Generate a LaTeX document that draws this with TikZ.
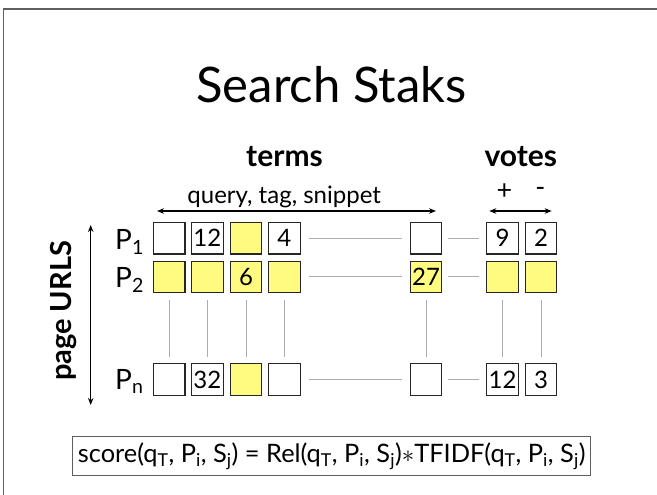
\documentclass[tikz,border=0pt]{standalone}
\usepackage{fontspec}
\setmainfont{Lato}
\usetikzlibrary{arrows.meta}
\definecolor{cellyellow}{RGB}{255,251,128}
\definecolor{linkgray}{RGB}{172,172,172}
\definecolor{framegray}{RGB}{95,95,95}
\newcommand{\fsz}[1]{\fontsize{#1}{#1}\selectfont}
\begin{document}
\begin{tikzpicture}[x=1pt,y=-1pt,
  cell/.style={draw=black!85, line width=1.2pt, minimum size=31.5pt,
    inner sep=0pt, fill=white, font=\fsz{24}},
  ycell/.style={cell, fill=cellyellow},
  link/.style={draw=linkgray, line width=0.9pt},
  rowlabel/.style={anchor=base west, inner sep=0pt, font=\fsz{28}},
  head/.style={anchor=base, inner sep=0pt, font=\fsz{30}\bfseries},
  span/.style={line width=1.1pt, {Stealth[length=7pt,width=5.5pt]}-{Stealth[length=7pt,width=5.5pt]}}
]
\useasboundingbox (0,0) rectangle (657,495);
\fill[white] (0,0) rectangle (657,495);
% slide frame
\draw[framegray, line width=1.4pt] (3.3,495) -- (3.3,9) -- (657,9);

% title
\node[anchor=base, inner sep=0pt, font=\fsz{49}] (title) at (331.5,102.3) {Search Staks};

% column headings
\node[head] (terms) at (284.5,166.7) {terms};
\node[head] (votes) at (520.8,166.7) {votes};
\node[anchor=base, inner sep=0pt, font=\fsz{24}] (kinds) at (284.2,203.3) {query, tag, snippet};
\node[inner sep=0pt, font=\fsz{27}] (plus) at (504.5,191.5) {+};
\node[inner sep=0pt, font=\fsz{27}] (minus) at (540.5,191.5) {-};
\coordinate (tl) at (157,211);
\coordinate (tr) at (436,211);
\coordinate (vl) at (489.3,211);
\coordinate (vr) at (551.7,211);
\draw[span] (tl) -- (tr);
\draw[span] (vl) -- (vr);

% row axis
\coordinate (ut) at (90.7,225);
\coordinate (ub) at (90.7,405);
\draw[span] (ut) -- (ub);
\node[rotate=90, inner sep=0pt, font=\fsz{29}\bfseries] (urls) at (63.3,311) {page URLS};

% row labels
\node[rowlabel] (l1) at (115,249) {P\textsubscript{1}};
\node[rowlabel] (l2) at (115,287) {P\textsubscript{2}};
\node[rowlabel] (ln) at (115,389.3) {P\textsubscript{n}};

% row P1
\node[cell]  (a1) at (169.2,238.2) {};
\node[cell]  (a2) at (207.4,238.2) {12};
\node[ycell] (a3) at (246.0,238.2) {};
\node[cell]  (a4) at (284.4,238.2) {4};
\node[cell]  (a5) at (426.0,238.2) {};
\node[cell]  (a6) at (502.6,238.2) {9};
\node[cell]  (a7) at (541.0,238.2) {2};

% row P2
\node[ycell] (b1) at (169.2,276.9) {};
\node[ycell] (b2) at (207.4,276.9) {};
\node[ycell] (b3) at (246.0,276.9) {6};
\node[ycell] (b4) at (284.4,276.9) {};
\node[ycell] (b5) at (426.0,276.9) {27};
\node[ycell] (b6) at (502.6,276.9) {};
\node[ycell] (b7) at (541.0,276.9) {};

% row Pn
\node[cell]  (n1) at (169.2,379.5) {};
\node[cell]  (n2) at (207.4,379.5) {32};
\node[ycell] (n3) at (246.0,379.5) {};
\node[cell]  (n4) at (284.4,379.5) {};
\node[cell]  (n5) at (426.0,379.5) {};
\node[cell]  (n6) at (502.6,379.5) {12};
\node[cell]  (n7) at (541.0,379.5) {3};

% elided cells along each row
\foreach \r in {a,b,n}{
  \draw[link, shorten <=8pt, shorten >=8pt] (\r4) -- (\r5);
  \draw[link, shorten <=5.5pt, shorten >=7.5pt] (\r5) -- (\r6);
}
% elided rows down each column
\foreach \c in {1,...,7}{
  \draw[link, shorten <=7pt, shorten >=6pt] (b\c) -- (n\c);
}

% scoring function
\node[draw=framegray, line width=1.3pt, minimum width=518pt, minimum height=39pt,
  inner sep=0pt, font=\fsz{25.4}] (score) at (331.7,456.2)
  {score(q\textsubscript{T}, P\textsubscript{i}, S\textsubscript{j}) = Rel(q\textsubscript{T}, P\textsubscript{i}, S\textsubscript{j})$\ast$TFIDF(q\textsubscript{T}, P\textsubscript{i}, S\textsubscript{j})};
\end{tikzpicture}
\end{document}
